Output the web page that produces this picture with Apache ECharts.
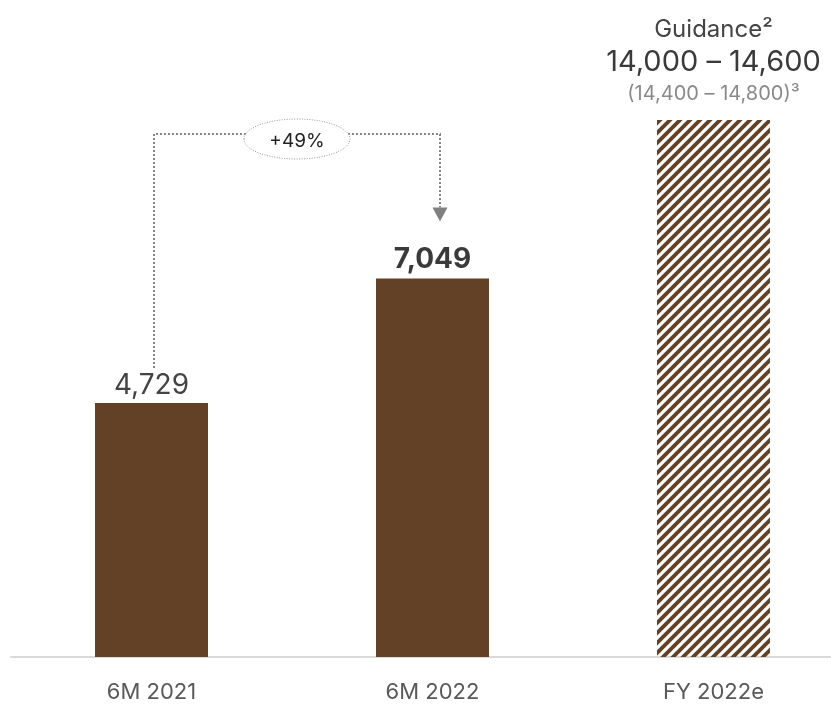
<!DOCTYPE html>
<html>
<head>
<meta charset="utf-8">
<script src="https://cdn.jsdelivr.net/npm/echarts@6/dist/echarts.min.js"></script>
<style>
html, body { margin: 0; padding: 0; background: #fff; }
#main_chart { width: 831px; height: 706px; }
</style>
</head>
<body>
<div id="main_chart"></div>
<script>
// data
var categories = ['6M 2021', '6M 2022', 'FY 2022e'];
var barValues = [4729, 7049, 10000];      // last one = hatched guidance bar, height as drawn
var barLabels = ['4,729', '7,049', ''];
var guidanceTitle = 'Guidance²';
var guidanceRange = '14,000 – 14,600';
var guidanceRangeAlt = '(14,400 – 14,800)³';
var growthLabel = '+49%';

var brown = '#634127';
var fontName = 'Inter, "Noto Sans", sans-serif';

// diagonal stripes for the guidance bar
function makeHatch() {
    var c = document.createElement('canvas');
    c.width = 10;
    c.height = 10;
    var ctx = c.getContext('2d');
    ctx.strokeStyle = brown;
    ctx.lineWidth = 3.8;
    ctx.beginPath();
    ctx.moveTo(-5, 5); ctx.lineTo(5, -5);
    ctx.moveTo(0, 10); ctx.lineTo(10, 0);
    ctx.moveTo(5, 15); ctx.lineTo(15, 5);
    ctx.stroke();
    return c;
}

var seriesData = [];
for (var i = 0; i < barValues.length; i++) {
    var item = { value: barValues[i] };
    if (i == 0) {
        item.label = { show: true, position: 'top', distance: 3, formatter: barLabels[i],
            fontSize: 28, color: '#444', fontFamily: fontName };
    } else if (i == 1) {
        item.label = { show: true, position: 'top', distance: 5, formatter: barLabels[i],
            fontSize: 28, fontWeight: 'bold', color: '#3a3a3a', fontFamily: fontName };
    } else {
        item.itemStyle = { color: { image: makeHatch(), repeat: 'repeat' } };
        item.label = {
            show: true, position: 'top', distance: 11,
            formatter: '{a|' + guidanceTitle + '}\n{b|' + guidanceRange + '}\n{c|' + guidanceRangeAlt + '}',
            fontFamily: fontName,
            rich: {
                a: { fontSize: 24, lineHeight: 33, color: '#444', fontFamily: fontName },
                b: { fontSize: 29, lineHeight: 33, color: '#3a3a3a', fontFamily: fontName },
                c: { fontSize: 20, lineHeight: 30, color: '#8a8a8a', fontFamily: fontName }
            }
        };
    }
    seriesData.push(item);
}

var myChart = echarts.init(document.getElementById('main_chart'));
var option = {
    animation: false,
    grid: { left: 11, width: 843, top: 12.6, bottom: 49, outerBoundsMode: 'none', containLabel: false },
    xAxis: {
        type: 'category',
        data: categories,
        axisLine: { lineStyle: { color: '#d9d9d9', width: 2 } },
        axisTick: { show: false },
        axisLabel: { fontSize: 22, color: '#595959', margin: 24, fontFamily: fontName }
    },
    yAxis: {
        type: 'value', min: 0, max: 12000, show: false,
        splitLine: { show: false }
    },
    series: [{
        type: 'bar',
        barWidth: 113,
        itemStyle: { color: brown },
        data: seriesData
    }]
};
myChart.setOption(option);

// growth arrow between the two actual bars
var p1 = myChart.convertToPixel({ seriesIndex: 0 }, [0, barValues[0]]);
var p2 = myChart.convertToPixel({ seriesIndex: 0 }, [1, barValues[1]]);
var pTop = myChart.convertToPixel({ seriesIndex: 0 }, [2, barValues[2]]);
var x1 = Math.round(p1[0] + 2);
var x2 = Math.round(p2[0] + 7);
var yLine = Math.round(pTop[1] + 14);
var yStart = p1[1] - 35;
var yArrow = p2[1] - 71;
var midX = (x1 + x2) / 2;
var dotted = { stroke: '#858585', lineWidth: 2, lineDash: [2, 2], fill: null };

myChart.setOption({
    graphic: [
        { type: 'polyline', silent: true, z: 10,
          shape: { points: [[x1, yStart], [x1, yLine], [x2, yLine], [x2, yArrow]] },
          style: dotted },
        { type: 'polygon', silent: true, z: 10,
          shape: { points: [[x2 - 7.5, yArrow], [x2 + 7.5, yArrow], [x2, yArrow + 14]] },
          style: { fill: '#808080' } },
        { type: 'ellipse', silent: true, z: 11,
          shape: { cx: midX, cy: yLine + 5, rx: 53, ry: 20 },
          style: { fill: '#fff', stroke: '#999', lineWidth: 1, lineDash: [1, 1.5] } },
        { type: 'text', silent: true, z: 12,
          x: midX, y: yLine + 7,
          style: { text: growthLabel, fontSize: 19, fill: '#222', fontFamily: fontName,
                   align: 'center', verticalAlign: 'middle' } }
    ]
});
</script>
</body>
</html>
